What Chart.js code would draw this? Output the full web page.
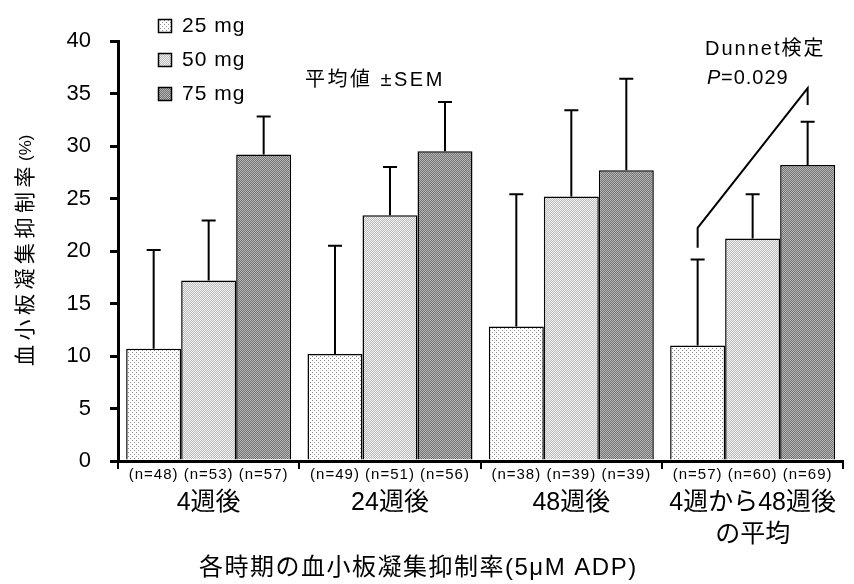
<!DOCTYPE html>
<html>
<head>
<meta charset="utf-8">
<script src="https://cdn.jsdelivr.net/npm/chart.js@4.4.0/dist/chart.umd.min.js"></script>
<style>
    html, body { margin: 0; padding: 0; background: #fff; overflow: hidden; }
    #wrap { width: 854px; height: 584px; }
</style>
</head>
<body>
<div id="wrap"><canvas id="mainChart" width="854" height="584"></canvas></div>
<script>
// Chart values
const categories = ["4週後", "24週後", "48週後", ["4週から48週後", "の平均"]];
const doseLabels = ["25 mg", "50 mg", "75 mg"];
const mean25 = [10.7, 10.2, 12.8, 11.0];
const mean50 = [17.2, 23.4, 25.2, 21.2];
const mean75 = [29.2, 29.5, 27.7, 28.2];
const sem25 = [9.4, 10.3, 12.6, 8.2];
const sem50 = [5.7, 4.6, 8.2, 4.2];
const sem75 = [3.6, 4.7, 8.7, 4.1];
const n25 = [48, 49, 38, 57];
const n50 = [53, 51, 39, 60];
const n75 = [57, 56, 39, 69];
const yTicks = [0, 5, 10, 15, 20, 25, 30, 35, 40];

// Dunnet bracket (value units): left foot/top over 25 mg, right top/foot over 75 mg
const bracketLeft = [20.3, 22.2];
const bracketRight = [35.5, 33.9];

const fontFamily = "'Liberation Sans', 'Noto Sans CJK JP', sans-serif";

// Hatched fills like the original print
function makePattern(kind) {
    const c = document.createElement("canvas");
    c.width = 4;
    c.height = 4;
    const g = c.getContext("2d");
    if (kind === "dots") {
        g.fillStyle = "#ffffff";
        g.fillRect(0, 0, 4, 4);
        g.fillStyle = "#8c8c8c";
        g.fillRect(0, 0, 1, 1);
        g.fillRect(2, 2, 1, 1);
    } else {
        const [a, b] = kind === "light" ? ["#bcbcbc", "#f0f0f0"] : ["#747474", "#b6b6b6"];
        for (let i = 0; i < 4; i++) {
            for (let j = 0; j < 4; j++) {
                g.fillStyle = (i + j) % 2 ? a : b;
                g.fillRect(i, j, 1, 1);
            }
        }
    }
    return g.createPattern(c, "repeat");
}

const fills = [makePattern("dots"), makePattern("light"), makePattern("dark")];
const means = [mean25, mean50, mean75];
const sems = [sem25, sem50, sem75];
const counts = [n25, n50, n75];

function drawText(ctx, text, x, y, size, spacing, align, style) {
    ctx.font = `${style || ""} ${size}px ${fontFamily}`;
    ctx.letterSpacing = spacing + "px";
    ctx.textAlign = align;
    ctx.textBaseline = "middle";
    ctx.fillText(text, x, y);
}

const decorations = {
    id: "decorations",
    afterDatasetsDraw(chart) {
        const ctx = chart.ctx;
        const yScale = chart.scales.y;
        const xScale = chart.scales.x;
        ctx.save();
        ctx.strokeStyle = "#000";
        ctx.fillStyle = "#000";
        ctx.lineWidth = 2;

        // upward SEM bars
        chart.data.datasets.forEach((ds, i) => {
            chart.getDatasetMeta(i).data.forEach((bar, j) => {
                const top = yScale.getPixelForValue(means[i][j] + sems[i][j]);
                ctx.beginPath();
                ctx.moveTo(bar.x, bar.y);
                ctx.lineTo(bar.x, top);
                ctx.moveTo(bar.x - 7, top);
                ctx.lineTo(bar.x + 7, top);
                ctx.stroke();
            });
        });

        // Dunnet bracket
        const left = chart.getDatasetMeta(0).data[3].x;
        const right = chart.getDatasetMeta(2).data[3].x;
        ctx.beginPath();
        ctx.moveTo(left, yScale.getPixelForValue(bracketLeft[0]));
        ctx.lineTo(left, yScale.getPixelForValue(bracketLeft[1]));
        ctx.lineTo(right, yScale.getPixelForValue(bracketRight[0]));
        ctx.lineTo(right, yScale.getPixelForValue(bracketRight[1]));
        ctx.stroke();

        // n counts under each bar
        counts.forEach((arr, i) => {
            chart.getDatasetMeta(i).data.forEach((bar, j) => {
                drawText(ctx, `(n=${arr[j]})`, bar.x, xScale.top + 14, 15, 1, "center");
            });
        });
        ctx.restore();
    },
    afterDraw(chart) {
        const ctx = chart.ctx;
        ctx.save();
        ctx.fillStyle = "#000";

        // legend
        chart.data.datasets.forEach((ds, i) => {
            const cy = 26 + i * 34;
            ctx.fillStyle = ds.backgroundColor;
            ctx.fillRect(158, cy - 7, 14, 14);
            ctx.strokeStyle = "#000";
            ctx.lineWidth = 1.5;
            ctx.strokeRect(158.5, cy - 6.5, 13, 13);
            ctx.fillStyle = "#000";
            drawText(ctx, ds.label, 182, cy, 21, 1, "left");
        });

        drawText(ctx, "平均値 ±SEM", 305, 80, 20, 2.5, "left");
        drawText(ctx, "Dunnet検定", 705, 49, 20, 2, "left");
        drawText(ctx, "P", 707, 78, 20, 1, "left", "italic");
        drawText(ctx, "=0.029", 721, 78, 20, 1, "left");

        // axis titles
        drawText(ctx, "各時期の血小板凝集抑制率(5μM ADP)", 199, 568, 24, 1.5, "left");
        ctx.translate(26, 366);
        ctx.rotate(-Math.PI / 2);
        drawText(ctx, "血小板凝集抑制率", 0, 0, 21, 4.5, "left");
        drawText(ctx, "(%)", 205, 0, 17, 0, "left");
        ctx.restore();
    }
};

const ctx = document.getElementById("mainChart").getContext("2d");
new Chart(ctx, {
    type: "bar",
    data: {
        labels: categories,
        datasets: doseLabels.map((label, i) => ({
            label,
            data: means[i],
            backgroundColor: fills[i],
            borderColor: "#000",
            borderWidth: 1.5,
            borderSkipped: "start",
            barPercentage: 1.0,
            categoryPercentage: 0.91,
        })),
    },
    options: {
        responsive: false,
        animation: false,
        devicePixelRatio: 1,
        layout: { padding: { top: 41, left: 0, right: 0, bottom: 0 } },
        plugins: {
            legend: { display: false },
            tooltip: { enabled: false },
        },
        scales: {
            x: {
                offset: true,
                afterFit: s => { s.height = 123; },
                grid: { offset: true, drawOnChartArea: false, tickLength: 8, lineWidth: 2, color: "#000" },
                border: { display: true, width: 3, color: "#000" },
                ticks: {
                    color: "#000",
                    padding: 18,
                    font: { family: fontFamily, size: 25, lineHeight: 1.28 },
                },
            },
            y: {
                min: 0,
                max: 40,
                afterFit: s => { s.width = 118; },
                afterBuildTicks: s => { s.ticks = yTicks.map(v => ({ value: v })); },
                grid: { drawOnChartArea: false, tickLength: 8, lineWidth: 3, color: "#000" },
                border: { display: true, width: 3, color: "#000" },
                ticks: {
                    color: "#000",
                    padding: 19,
                    font: { family: fontFamily, size: 22 },
                },
            },
        },
    },
    plugins: [decorations],
});
</script>
</body>
</html>
